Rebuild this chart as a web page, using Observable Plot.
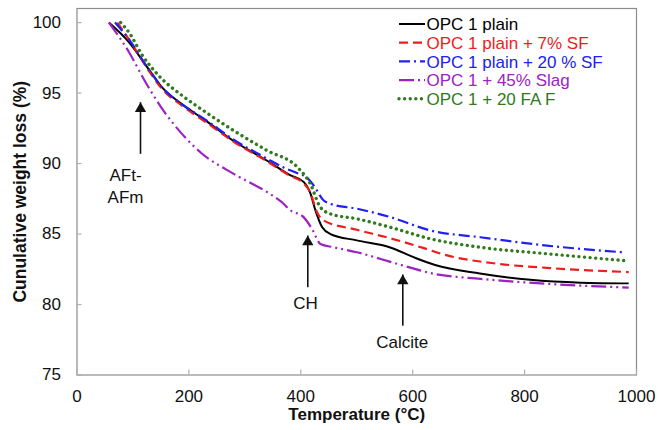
<!DOCTYPE html>
<html>
<head>
<meta charset="utf-8">
<script src="https://cdn.jsdelivr.net/npm/d3@7"></script>
<script src="https://cdn.jsdelivr.net/npm/@observablehq/plot@0.6"></script>
<style>
  html, body { margin: 0; padding: 0; background: #fff; }
  svg { display: block; }
</style>
</head>
<body>
<div id="chart"></div>
<script>
// ---- data ----
const xTicks = [0, 200, 400, 600, 800, 1000];
const yTicks = [75, 80, 85, 90, 95, 100];
const xLabel = "Temperature (°C)";
const yLabel = "Cunulative weight loss (%)";

const seriesNames = [
  "OPC 1 plain",
  "OPC 1 plain + 7% SF",
  "OPC 1 plain + 20 % SF",
  "OPC 1 + 45% Slag",
  "OPC 1 + 20 FA F"
];

const plainT = [57, 93, 128, 152, 188, 230, 280, 340, 380, 405, 417, 426, 438, 453, 500, 560, 605, 640, 720, 810, 900, 986];
const plainW = [100, 98.6, 96.7, 95.4, 94.2, 93.05, 91.6, 90.2, 89.2, 88.7, 87.9, 86.7, 85.5, 85.0, 84.55, 84.05, 83.3, 82.8, 82.2, 81.75, 81.55, 81.5];

const sf7T = [72, 93, 128, 152, 188, 230, 280, 340, 380, 405, 417, 429, 441, 500, 560, 620, 660, 750, 840, 986];
const sf7W = [100, 98.8, 96.6, 95.3, 94.1, 92.95, 91.55, 90.15, 89.15, 88.6, 87.95, 86.55, 85.96, 85.3, 84.7, 84.0, 83.5, 82.9, 82.6, 82.3];

const sf20T = [68, 93, 128, 152, 188, 230, 280, 340, 370, 395, 411, 422, 441, 453, 500, 560, 632, 721, 840, 974];
const sf20W = [100, 98.8, 96.7, 95.4, 94.2, 93.1, 91.7, 90.35, 89.7, 89.3, 89.0, 88.5, 87.38, 87.14, 86.8, 86.2, 85.25, 84.77, 84.18, 83.71];

const slagT = [57, 93, 122, 152, 190, 222, 280, 340, 365, 382, 405, 420, 435, 459, 500, 572, 638, 721, 840, 986];
const slagW = [100, 97.9, 95.8, 93.9, 92.0, 90.75, 89.27, 87.97, 87.3, 86.67, 86.2, 85.37, 84.3, 84.06, 83.71, 82.89, 82.18, 81.82, 81.47, 81.2];

const faT = [78, 93, 117, 146, 188, 228, 280, 340, 394, 417, 435, 453, 500, 560, 632, 721, 840, 977];
const faW = [100, 99.3, 97.66, 96.24, 94.82, 93.7, 92.34, 90.92, 89.74, 88.56, 86.9, 86.43, 86.08, 85.48, 84.66, 84.06, 83.6, 83.12];

// annotations (data units)
const annText = ["AFt-\nAFm", "CH", "Calcite"];
const annArrowX = [113.5, 412.5, 582.3];
const annArrowTop = [94.35, 84.89, 82.13];
const annArrowBottom = [90.69, 81.23, 78.5];
const annTextX = [86.7, 408.4, 581.2];
const annTextY = [88.51, 80.16, 77.45];
const annTextAnchor = ["start", "middle", "middle"];

// ---- styles ----
const styles = [
  {stroke: "#000000", dash: null, width: 2, cap: "butt"},
  {stroke: "#ee1c1c", dash: "9,5", width: 2.2, cap: "butt"},
  {stroke: "#2020f0", dash: "11,4,2,4", width: 2.2, cap: "butt"},
  {stroke: "#9c22c4", dash: "15,4,2,4,2,4", width: 2.2, cap: "butt"},
  {stroke: "#2f7a1c", dash: "0.01,5.6", width: 3.4, cap: "round"}
];

const seriesData = [[plainT, plainW], [sf7T, sf7W], [sf20T, sf20W], [slagT, slagW], [faT, faW]];
const rows = seriesData.map(([T, W], k) => T.map((t, i) => ({s: seriesNames[k], t, w: W[i]})));

const ann = annText.map((text, i) => ({
  text, ax: annArrowX[i], top: annArrowTop[i], bottom: annArrowBottom[i],
  tx: annTextX[i], ty: annTextY[i], anchor: annTextAnchor[i]
}));

const W = 658, H = 430;
const mL = 76.5, mR = 22, mT = 8, mB = 55.5;
const frameW = W - mL - mR, frameH = H - mT - mB;
const font = "'Liberation Sans', Arial, sans-serif";

const marks = [
  Plot.frame({stroke: "#8c8c8c", strokeWidth: 1.2}),
  Plot.tickX(xTicks, {x: d => d, stroke: "#b0b0b0", strokeWidth: 1.2, insetTop: frameH - 5}),
  Plot.tickY(yTicks, {y: d => d, stroke: "#b0b0b0", strokeWidth: 1.2, insetRight: frameW - 5}),
  Plot.axisX(xTicks, {tickSize: 0, tickPadding: 15, label: null, fontSize: 17, fill: "#111", tickFormat: d => String(d)}),
  Plot.axisY(yTicks, {tickSize: 0, tickPadding: 16, label: null, fontSize: 17, fill: "#111", tickFormat: d => String(d)}),
  Plot.text([xLabel], {frameAnchor: "bottom", dy: 45, text: d => d, textAnchor: "middle", fontSize: 17, fontWeight: "bold", fill: "#111"}),
  Plot.text([yLabel], {frameAnchor: "left", dx: -57, rotate: -90, text: d => d, textAnchor: "middle", fontSize: 17.5, fontWeight: "bold", fill: "#111"}),
  ...rows.map((r, k) => Plot.line(r, {
    x: "t", y: "w", curve: "monotone-x",
    stroke: styles[k].stroke, strokeWidth: styles[k].width,
    strokeDasharray: styles[k].dash, strokeLinecap: styles[k].cap
  })),
  Plot.link(ann, {x1: "ax", x2: "ax", y1: "bottom", y2: "top", stroke: "#111", strokeWidth: 1.6}),
  Plot.dot(ann, {x: "ax", y: "top", symbol: "triangle", r: 4.2, fill: "#111", stroke: "none", dy: 6.5}),
  Plot.text(ann, {x: "tx", y: "ty", text: "text", textAnchor: d => d.anchor, fontSize: 17, fill: "#111", lineHeight: 1.3})
];

const svg = Plot.plot({
  width: W, height: H,
  marginLeft: mL, marginRight: mR, marginTop: mT, marginBottom: mB,
  style: {fontFamily: font, background: "#fff", overflow: "visible"},
  x: {domain: [0, 1000]},
  y: {domain: [75, 101]},
  marks
});

// legend inside the plot area
const lg = d3.select(svg).append("g")
  .attr("font-family", font).attr("font-size", 17).attr("text-anchor", "start");
const lgX0 = 399, lgX1 = 425, lgY0 = 24, lgDy = 18.7;
seriesNames.forEach((name, k) => {
  const y = lgY0 + k * lgDy;
  const st = styles[k];
  lg.append("line")
    .attr("x1", lgX0).attr("x2", lgX1).attr("y1", y).attr("y2", y)
    .attr("stroke", st.stroke).attr("stroke-width", st.width)
    .attr("stroke-dasharray", st.dash).attr("stroke-linecap", st.cap);
  lg.append("text")
    .attr("x", lgX1 + 1.5).attr("y", y).attr("dy", "0.36em")
    .attr("text-anchor", "start")
    .attr("fill", st.stroke).text(name);
});

document.getElementById("chart").appendChild(svg);
</script>
</body>
</html>
